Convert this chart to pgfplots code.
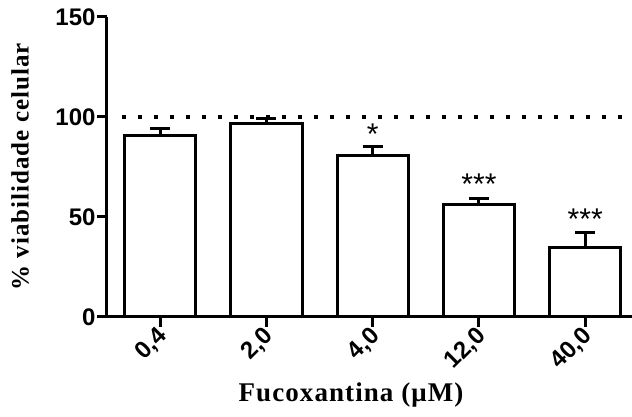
\documentclass[border=0pt]{standalone}
\usepackage{fontspec}
\setmainfont{Liberation Sans}
\newfontfamily\tickfont{Liberation Sans Bold}
\newfontfamily\labfont[LetterSpace=4]{Liberation Serif}
\usepackage{pgfplots}
\pgfplotsset{compat=1.18}
\begin{document}
\begin{tikzpicture}
\begin{axis}[
    scale only axis,
    width=525pt, height=300pt,
    xmin=-0.5, xmax=4.44,
    ymin=0, ymax=150,
    axis x line=bottom, axis y line=left,
    axis line style={line width=3pt, -},
    every tick/.style={black, line width=3pt},
    tick align=outside,
    major tick length=10pt,
    xtick={0,1,2,3,4},
    xticklabels={{0,4},{2,0},{4,0},{12,0},{40,0}},
    ytick={0,50,100,150},
    /pgf/number format/assume math mode=true,
    tick label style={font=\tickfont\fontsize{24}{24}\selectfont},
    y tick label style={xshift=2pt},
    x tick label style={rotate=45, anchor=east, yshift=-6pt, xshift=2pt},
    clip=false,
]
% barras: media com erro (apenas para cima)
\addplot[ybar, bar width=0.67, fill=white, draw=black, line width=3pt,
    error bars/.cd, y dir=plus, y explicit,
    error bar style={line width=3pt},
    error mark options={line width=3pt, mark size=10pt, rotate=90}]
coordinates {
    (0, 90.6) +- (0, 3.6)
    (1, 96.5) +- (0, 2.5)
    (2, 80.7) +- (0, 4.3)
    (3, 56.0) +- (0, 3.0)
    (4, 34.7) +- (0, 7.3)
};
% linha pontilhada em 100%
\addplot[line width=4pt, dash pattern=on 4pt off 12pt] coordinates {(-0.36,100) (4.4,100)};
% significancia
\node[font=\fontsize{30}{30}\selectfont] at (axis cs:2,91.5) {*};
\node[font=\fontsize{30}{30}\selectfont] at (axis cs:3,66.5) {***};
\node[font=\fontsize{30}{30}\selectfont] at (axis cs:4,49) {***};
\end{axis}
\node[rotate=90, font=\labfont\fontsize{25}{25}\selectfont\bfseries] at (-87pt,150pt) {\% viabilidade celular};
\node[anchor=base, font=\labfont\fontsize{27}{27}\selectfont\bfseries] at (244pt,-85pt) {Fucoxantina (μM)};
\pgfresetboundingbox
\path[use as bounding box] (-107pt,-100pt) rectangle (525pt,317pt);
\end{tikzpicture}
\end{document}
